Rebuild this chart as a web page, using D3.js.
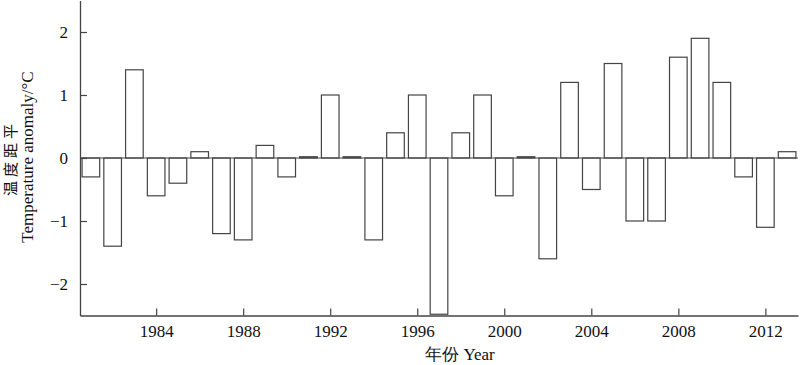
<!DOCTYPE html>
<html><head><meta charset="utf-8">
<script src="https://cdn.jsdelivr.net/npm/d3@7/dist/d3.min.js"></script>
<style>
body{margin:0;background:#fff;}
text{font-family:"Liberation Serif","Times New Roman",serif;fill:#111;}
</style></head><body>
<svg id="c" width="800" height="365"></svg>
<script>
const years = d3.range(1981, 2014);
const anomaly = [-0.3,-1.4,1.4,-0.6,-0.4,0.1,-1.2,-1.3,0.2,-0.3,0.02,1.0,0.02,-1.3,0.4,1.0,-2.48,0.4,1.0,-0.6,0.02,-1.6,1.2,-0.5,1.5,-1.0,-1.0,1.6,1.9,1.2,-0.3,-1.1,0.1];
const xTicks = [1984,1988,1992,1996,2000,2004,2008,2012];
const yTicks = [-2,-1,0,1,2];
const xTitle = "年份 Year";
const yTitle1 = "温度距平";
const yTitle2 = "Temperature anomaly/°C";

(function(){
const svg = d3.select("#c");
const mLeft = 80, mRight = 798, mTop = 0.5, mBottom = 315.5;
const x = d3.scaleLinear().domain([1980.5, 2013.5]).range([mLeft, mRight]);
const y = d3.scaleLinear().domain([-2.5, 2.5]).range([mBottom, mTop]);
const bw = (x(1) - x(0)) * 0.81;
const stroke = "#444";

svg.append("g").selectAll("rect").data(years).join("rect")
  .attr("x", (d) => x(d) - bw/2)
  .attr("width", bw)
  .attr("y", (d,i) => y(Math.max(0, anomaly[i])))
  .attr("height", (d,i) => Math.abs(y(anomaly[i]) - y(0)))
  .attr("fill", "#fff").attr("stroke", stroke).attr("stroke-width", 1.2);

svg.append("line").attr("x1", mLeft).attr("x2", mRight).attr("y1", y(0)).attr("y2", y(0))
  .attr("stroke", stroke).attr("stroke-width", 1.2);

const xAxis = svg.append("g").attr("transform", `translate(0,${mBottom})`)
  .call(d3.axisBottom(x).tickValues(xTicks).tickFormat(d3.format("d")).tickSizeInner(-7).tickSizeOuter(0).tickPadding(9));
const yAxis = svg.append("g").attr("transform", `translate(${mLeft},0)`)
  .call(d3.axisLeft(y).tickValues(yTicks).tickFormat(d => d < 0 ? "\u2212" + Math.abs(d) : d).tickSizeInner(-7).tickSizeOuter(0).tickPadding(12));
[xAxis, yAxis].forEach(a => {
  a.selectAll("path").attr("stroke", stroke).attr("stroke-width", 1.3);
  a.selectAll("line").attr("stroke", stroke).attr("stroke-width", 1.2);
  a.selectAll("text").style("font-size", "17px").attr("fill", "#111");
});

svg.append("text").attr("transform", "translate(16,158) rotate(-90)").attr("text-anchor", "middle")
  .style("font-family", "'Noto Sans CJK SC',sans-serif").style("font-size", "15px")
  .style("letter-spacing", "4px").text(yTitle1);
svg.append("text").attr("x", 460).attr("y", 360).attr("text-anchor", "middle")
  .style("font-size", "17px").text(xTitle);
svg.append("text").attr("transform", "translate(33,157) rotate(-90)").attr("text-anchor", "middle")
  .style("font-size", "17px").text(yTitle2);
})();
</script></body></html>
